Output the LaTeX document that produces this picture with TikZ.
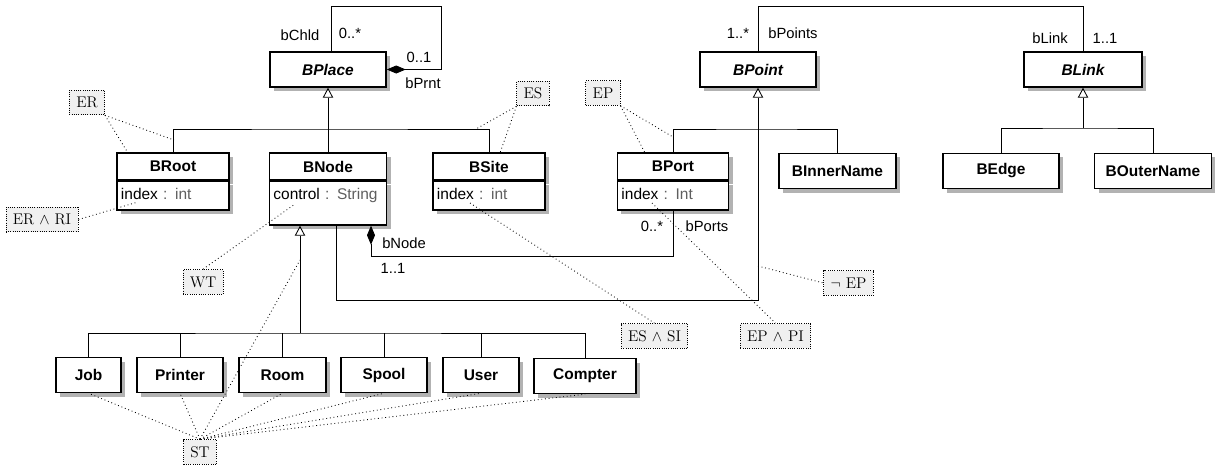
\documentclass[tikz,border=0pt]{standalone}
\usepackage{fontspec}
\setsansfont{Liberation Sans}
\usepackage{xcolor}
\usepackage{tikz}
\usetikzlibrary{arrows.meta,positioning,shadows}

\definecolor{shadowgray}{RGB}{178,178,178}
\definecolor{notefill}{RGB}{240,240,240}
\definecolor{typegray}{RGB}{95,95,95}
\newcommand{\attr}[2]{#1 {\color{typegray}: #2}}

\begin{document}
\begin{tikzpicture}[
  x=0.025cm, y=-0.025cm,
  cls/.style={draw, line width=1pt, fill=white, inner sep=0pt, minimum height=0.675cm,
    font=\sffamily\bfseries\fontsize{11}{13}\selectfont,
    drop shadow={shadow xshift=0.1cm, shadow yshift=-0.1cm, fill=shadowgray, opacity=1}},
  leaf/.style={cls, minimum height=0.875cm},
  abstr/.style={leaf, font=\sffamily\bfseries\itshape\fontsize{11}{13}\selectfont},
  attrs/.style={draw, line width=1pt, fill=white, align=left, inner xsep=0.1cm, inner ysep=0.08cm,
    text height=0.38cm, text depth=0.17cm, font=\sffamily\fontsize{11}{13}\selectfont,
    drop shadow={shadow xshift=0.1cm, shadow yshift=-0.1cm, fill=shadowgray, opacity=1}},
  note/.style={draw, densely dotted, semithick, fill=notefill, inner xsep=0.17cm, inner ysep=0pt,
    minimum height=0.62cm, font=\fontsize{11}{13}\selectfont},
  lbl/.style={font=\sffamily\fontsize{10.5}{12}\selectfont, inner sep=0pt},
  link/.style={semithick},
  gen/.style={link, -{Triangle[open, length=0.25cm, width=0.26cm]}},
  comp/.style={link, {Diamond[length=0.475cm, width=0.2cm]}-},
  anno/.style={dotted, semithick}
]
\useasboundingbox (0,0) rectangle (1215,467);

% Classes
\node[abstr, minimum width=2.9cm] (bplace) at (328,69.5) {BPlace};
\node[abstr, minimum width=2.9cm] (bpoint) at (758,69.5) {BPoint};
\node[abstr, minimum width=2.95cm] (blink) at (1083,69.5) {BLink};

\node[cls, minimum width=2.8cm] (broot) at (173,166.5) {BRoot};
\node[attrs, text width=2.6cm, below=0pt of broot] (broot-a) {\attr{index}{int}};
\node[cls, minimum width=2.925cm] (bnode) at (328,166.5) {BNode};
\node[attrs, text width=2.725cm, text depth=0.55cm, below=0pt of bnode] (bnode-a) {\attr{control}{String}};
\node[cls, minimum width=2.8cm] (bsite) at (489,166.5) {BSite};
\node[attrs, text width=2.6cm, below=0pt of bsite] (bsite-a) {\attr{index}{int}};
\node[cls, minimum width=2.775cm] (bport) at (673,166.5) {BPort};
\node[attrs, text width=2.575cm, below=0pt of bport] (bport-a) {\attr{index}{Int}};

\node[leaf, minimum width=2.925cm] (binner) at (837.5,171) {BInnerName};
\node[leaf, minimum width=2.9cm] (bedge) at (1001,171) {BEdge};
\node[leaf, minimum width=2.925cm] (bouter) at (1153,171) {BOuterName};

\node[leaf, minimum width=1.625cm] (job) at (88.5,375) {Job};
\node[leaf, minimum width=2.15cm] (printer) at (180,375) {Printer};
\node[leaf, minimum width=2.175cm] (room) at (282.5,375) {Room};
\node[leaf, minimum width=2.15cm] (spool) at (384,375) {Spool};
\node[leaf, minimum width=1.9cm] (user) at (481,375) {User};
\node[leaf, minimum width=2.55cm] (compter) at (585,376) {Compter};

% Bends
\coordinate (placebar) at (328,129);
\coordinate (pointbar) at (758,129);
\coordinate (linkbar) at (1083,128);
\coordinate (nodebar) at (300,333);
\coordinate (nodeturn) at (336,300);
\coordinate (compturn) at (371,256);
\coordinate (selfloop) at (441,6);
\coordinate (toploop) at (758,6);

% Generalisations
\draw[gen] (bnode.north) -- (bplace.south);
\draw[link] (broot.north) |- (placebar) -| (bsite.north);
\draw[link] (bport.north) |- (pointbar) -| (binner.north);
\draw[gen] (bnode-a.south -| nodeturn) -- (nodeturn) -| (bpoint.south);
\draw[gen] (linkbar) -- (blink.south);
\draw[link] (bedge.north) |- (linkbar) -| (bouter.north);
\draw[gen] (nodebar) -- (bnode-a.south -| nodebar);
\draw[link] (job.north) |- (nodebar) -| (compter.north);
\foreach \c in {printer,room,spool,user}
  \draw[link] (\c.north) -- (\c.north |- nodebar);

% Associations
\draw[comp] (bplace.east) -| (selfloop) -| ([xshift=0.075cm]bplace.north);
\draw[link] (bpoint.north) -- (toploop) -| (blink.north);
\draw[comp] (bnode-a.south -| compturn) -- (compturn) -| (bport-a.south);

% Role names and multiplicities
\node[lbl] (bchld) at (300,35) {bChld};
\node[lbl] (chldm) at (350,33) {0..*};
\node[lbl] (prntm) at (419,57) {0..1};
\node[lbl] (bprnt) at (423,83) {bPrnt};
\node[lbl] (pointsm) at (738,33) {1..*};
\node[lbl] (bpoints) at (793,33) {bPoints};
\node[lbl] (blnk) at (1050,38) {bLink};
\node[lbl] (linkm) at (1105,38) {1..1};
\node[lbl] (bnd) at (404,243) {bNode};
\node[lbl] (nodem) at (393,268) {1..1};
\node[lbl] (portsm) at (652,226) {0..*};
\node[lbl] (bports) at (707,226) {bPorts};

% Constraints
\node[note] (er) at (87,102.5) {ER};
\node[note] (erri) at (42,219.5) {ER $\wedge$ RI};
\node[note] (wt) at (203,282) {WT};
\node[note] (st) at (200,452) {ST};
\node[note] (es) at (533,93.5) {ES};
\node[note] (ep) at (603,93) {EP};
\node[note] (essi) at (654.5,336) {ES $\wedge$ SI};
\node[note] (eppi) at (775.5,336) {EP $\wedge$ PI};
\node[note] (nep) at (848.5,283) {$\neg$ EP};

\coordinate (er-a) at (128,153);
\coordinate (er-b) at (174,140);
\coordinate (erri-a) at (138,202);
\coordinate (wt-a) at (295,204);
\coordinate (st-a) at (300,260);
\coordinate (es-a) at (476,129);
\coordinate (es-b) at (500,153);
\coordinate (ep-a) at (645,153);
\coordinate (ep-b) at (673,137);
\coordinate (essi-a) at (470,203);
\coordinate (eppi-a) at (652,203);
\coordinate (nep-a) at (758,266);

\draw[anno] (er.south east) -- (er-a);
\draw[anno] (er.south east) -- (er-b);
\draw[anno] (erri.east) -- (erri-a);
\draw[anno] (wt.north) -- (wt-a);
\draw[anno] (st.north) -- (st-a);
\foreach \c in {job,printer,room,spool,user,compter}
  \draw[anno] (st.north) -- (\c.south);
\draw[anno] (es.south west) -- (es-a);
\draw[anno] (es.south west) -- (es-b);
\draw[anno] (ep.south east) -- (ep-a);
\draw[anno] (ep.south east) -- (ep-b);
\draw[anno] (essi-a) -- (essi.north);
\draw[anno] (eppi-a) -- (eppi.north);
\draw[anno] (nep-a) -- (nep.west);

\end{tikzpicture}
\end{document}
